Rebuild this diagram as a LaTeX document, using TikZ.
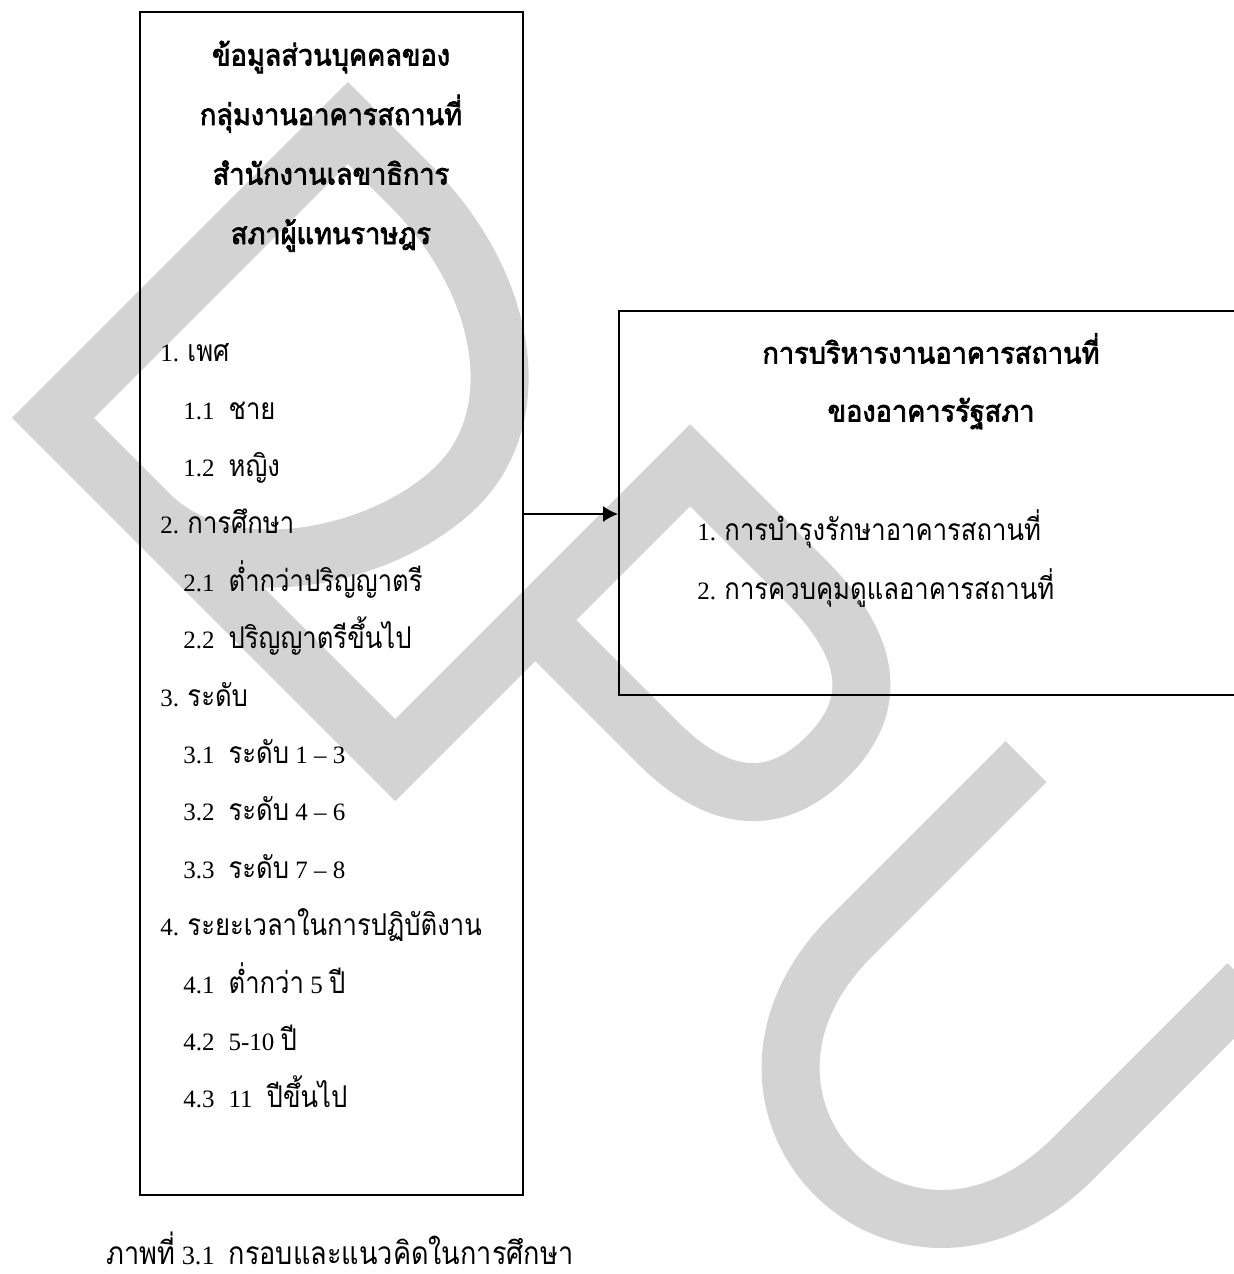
\documentclass[tikz,border=0pt]{standalone}
\usepackage{fontspec}
\setmainfont{Liberation Serif}
\newfontfamily\thaifont[Script=Thai,Scale=1.2,FakeStretch=0.855]{Loma}
\newfontfamily\thaibf[Script=Thai,Scale=1.18,FakeStretch=0.92,FakeBold=2.5]{Loma}
\usetikzlibrary{arrows.meta,positioning}
\definecolor{wmgray}{RGB}{211,211,211}

\tikzset{
    frame/.style={draw=black, line width=1pt, inner sep=0pt},
    txt/.style={anchor=base west, inner sep=0pt},
    hd/.style={anchor=base, inner sep=0pt, font=\fontsize{12.5}{15}\selectfont\thaibf},
    arr/.style={-{Latex[length=7.5pt,width=8pt]}, line width=0.8pt},
    wm/.style={draw=wmgray, line width=29pt, line join=miter}
}

\begin{document}
\begin{tikzpicture}[x=0.5pt, y=-0.5pt, font=\fontsize{12.5}{15}\selectfont]
    \useasboundingbox (0,0) rectangle (1234,1274);
    % watermark DPU (letter frame turned by 45 degrees)
    \begin{scope}[x={(0.35355pt,-0.35355pt)}, y={(0.35355pt,0.35355pt)}]
        \draw[wm] (470,-258) .. controls (580,-258) and (667,-120) .. (667,-20)
            .. controls (667,80) and (560,159) .. (420,159) -- (333,159)
            -- (333,-258) -- (817,-258) -- (817,159) -- (980,159)
            .. controls (1090,159) and (1120,110) .. (1120,50)
            .. controls (1120,-20) and (1080,-60) .. (990,-60) -- (817,-60);
        \draw[wm] (1264,187) -- (1264,-60) .. controls (1264,-300) and (1578,-300)
            .. (1578,-60) -- (1578,187);
    \end{scope}

    % boxes
    \node[frame, minimum width=191.5pt, minimum height=591.5pt] (persbox) at (331.5,603.5) {};
    \node[frame, minimum width=310.5pt, minimum height=192pt] (mgmtbox) at (929.5,503) {};
    \coordinate (arry) at (0,514);
    \draw[arr] (persbox.east |- arry) -- (mgmtbox.west |- arry);

    % left box heading
    \node[hd] (hda) at (331,65.5) {ข้อมูลส่วนบุคคลของ};
    \node[hd] (hdb) at (331,125) {กลุ่มงานอาคารสถานที่};
    \node[hd] (hdc) at (331,184.5) {สำนักงานเลขาธิการ};
    \node[hd] (hdd) at (331,244) {สภาผู้แทนราษฎร};

    % left box items
    \node[txt] (sex) at (160,361.7) {1. {\thaifont เพศ}};
    \node[txt] (male) at (183,419.1) {1.1\hspace{7pt}{\thaifont ชาย}};
    \node[txt] (female) at (183,476.5) {1.2\hspace{7pt}{\thaifont หญิง}};
    \node[txt] (edu) at (160,533.9) {2. {\thaifont การศึกษา}};
    \node[txt] (edulow) at (183,591.3) {2.1\hspace{7pt}{\thaifont ต่ำกว่าปริญญาตรี}};
    \node[txt] (eduhigh) at (183,648.7) {2.2\hspace{7pt}{\thaifont ปริญญาตรีขึ้นไป}};
    \node[txt] (lvl) at (160,706.1) {3. {\thaifont ระดับ}};
    \node[txt] (lvla) at (183,763.5) {3.1\hspace{7pt}{\thaifont ระดับ} 1 – 3};
    \node[txt] (lvlb) at (183,820.9) {3.2\hspace{7pt}{\thaifont ระดับ} 4 – 6};
    \node[txt] (lvlc) at (183,878.3) {3.3\hspace{7pt}{\thaifont ระดับ} 7 – 8};
    \node[txt] (yrs) at (160,935.7) {4. {\thaifont ระยะเวลาในการปฏิบัติงาน}};
    \node[txt] (yrsa) at (183,993.1) {4.1\hspace{7pt}{\thaifont ต่ำกว่า} 5 {\thaifont ปี}};
    \node[txt] (yrsb) at (183,1050.5) {4.2\hspace{7pt}5-10 {\thaifont ปี}};
    \node[txt] (yrsc) at (183,1107.9) {4.3\hspace{7pt}11\hspace{7pt}{\thaifont ปีขึ้นไป}};

    % right box
    \node[hd] (mgta) at (931,363.5) {การบริหารงานอาคารสถานที่};
    \node[hd] (mgtb) at (931,421.5) {ของอาคารรัฐสภา};
    \node[txt] (mnt) at (697,540.5) {1. {\thaifont การบำรุงรักษาอาคารสถานที่}};
    \node[txt] (ctl) at (697,599.5) {2. {\thaifont การควบคุมดูแลอาคารสถานที่}};

    % caption
    \node[txt, font=\fontsize{13.2}{15}\selectfont] (cap) at (106,1264)
        {{\thaifont ภาพที่} 3.1\hspace{7pt}{\thaifont กรอบและแนวคิดในการศึกษา}};
\end{tikzpicture}
\end{document}
